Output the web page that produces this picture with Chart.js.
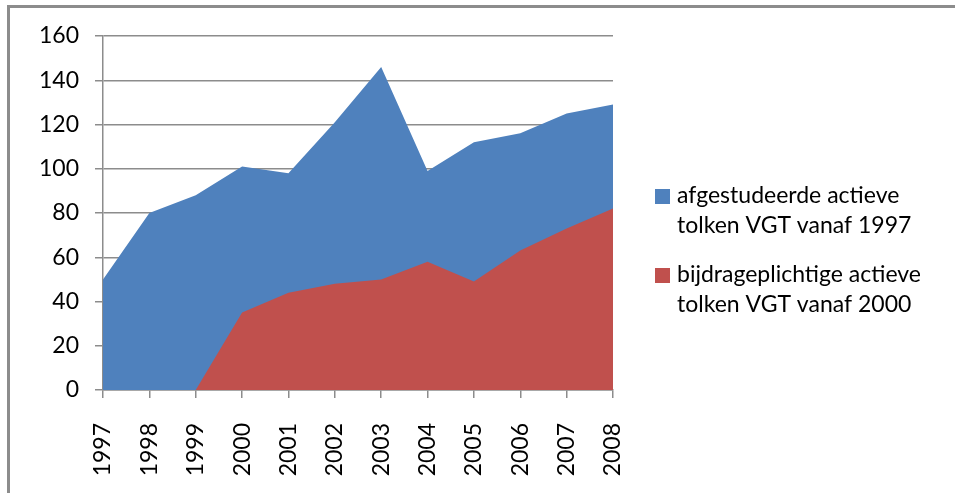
<!DOCTYPE html>
<html>
<head>
<meta charset="utf-8">
<script src="https://cdn.jsdelivr.net/npm/chart.js@4"></script>
<style>
  html, body { margin: 0; padding: 0; background: #fff; }
  #wrap { position: relative; width: 955px; height: 493px; }
  #frame { position: absolute; left: 7px; top: 5px; right: -5px; bottom: -5px;
           border-left: 3px solid #8c8c8c; border-top: 3px solid #8c8c8c; pointer-events: none; }
</style>
</head>
<body>
<div id="wrap">
  <canvas id="myChart" width="955" height="493"></canvas>
  <div id="frame"></div>
</div>
<script>
// Gegevens
var years = ['1997', '1998', '1999', '2000', '2001', '2002', '2003', '2004', '2005', '2006', '2007', '2008'];
var afgestudeerd = [50, 80, 88, 101, 98, 121, 146, 99, 112, 116, 125, 129];
var bijdrageplichtig = [null, null, 0, 35, 44, 48, 50, 58, 49, 63, 73, 82];
var yTicks = [0, 20, 40, 60, 80, 100, 120, 140, 160];
var labelBlue = ['afgestudeerde actieve', 'tolken VGT vanaf 1997'];
var labelRed = ['bijdrageplichtige actieve', 'tolken VGT vanaf 2000'];

var fontFam = 'Lato, "Open Sans", sans-serif';
var grey = '#8c8c8c';

// Legende rechts, tekst over twee regels
var legendPlugin = {
    id: 'sideLegend',
    afterDraw: function (chart) {
        var ctx = chart.ctx;
        ctx.save();
        ctx.font = '23px ' + fontFam;
        ctx.textBaseline = 'alphabetic';
        ctx.textAlign = 'left';
        var items = [
            { color: '#4f81bd', lines: labelBlue, top: 189 },
            { color: '#c0504d', lines: labelRed, top: 268 }
        ];
        items.forEach(function (it) {
            ctx.fillStyle = it.color;
            ctx.fillRect(655, it.top, 15, 15);
            ctx.fillStyle = '#000';
            it.lines.forEach(function (line, i) {
                ctx.fillText(line, 677, it.top + 14 + i * 30);
            });
        });
        ctx.restore();
    }
};

var ctx = document.getElementById('myChart').getContext('2d');
var myChart = new Chart(ctx, {
    type: 'line',
    data: {
        labels: years,
        datasets: [{
            label: labelBlue.join(' '),
            data: afgestudeerd,
            backgroundColor: '#4f81bd',
            borderWidth: 0,
            pointRadius: 0,
            tension: 0,
            fill: 'origin',
            order: 2
        }, {
            label: labelRed.join(' '),
            data: bijdrageplichtig,
            backgroundColor: '#c0504d',
            borderWidth: 0,
            pointRadius: 0,
            tension: 0,
            fill: 'origin',
            order: 1
        }]
    },
    options: {
        responsive: false,
        animation: false,
        layout: { padding: { left: 0, top: 36, right: 342, bottom: 0 } },
        plugins: {
            legend: { display: false },
            tooltip: { enabled: false }
        },
        scales: {
            x: {
                offset: false,
                grid: { drawOnChartArea: false, drawTicks: true, tickLength: 8, color: grey, lineWidth: 1.5 },
                border: { color: grey, width: 1.5 },
                ticks: {
                    minRotation: 90, maxRotation: 90, autoSkip: false, padding: 25,
                    color: '#000', font: { family: fontFam, size: 23 }
                },
                afterFit: function (scale) { scale.height = 103; }
            },
            y: {
                min: 0, max: 160,
                afterBuildTicks: function (scale) {
                    scale.ticks = yTicks.map(function (v) { return { value: v }; });
                },
                grid: { color: grey, lineWidth: 1.5, tickLength: 8 },
                border: { color: grey, width: 1.5 },
                ticks: {
                    padding: 16, color: '#000', font: { family: fontFam, size: 23 }
                },
                afterFit: function (scale) { scale.width = 103; }
            }
        }
    },
    plugins: [legendPlugin]
});
</script>
</body>
</html>
